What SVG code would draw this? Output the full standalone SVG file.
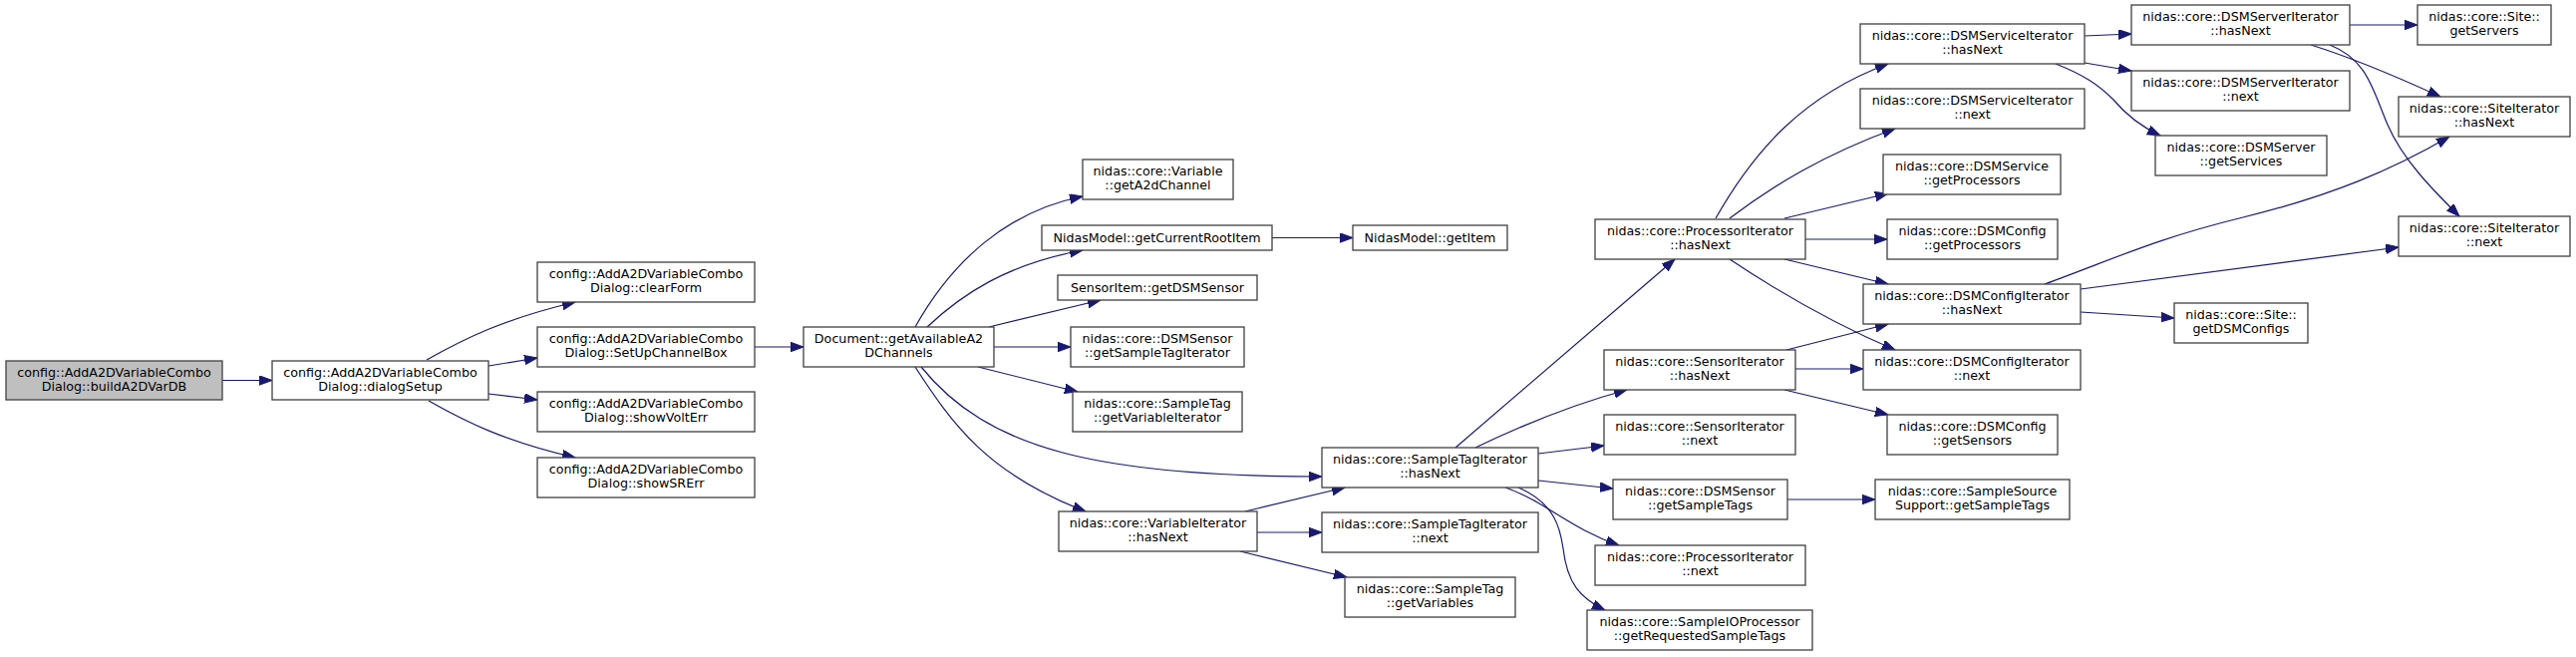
<svg xmlns="http://www.w3.org/2000/svg" width="2584" height="659" viewBox="0 0 2584 659">
<style>
.n rect{fill:#ffffff;stroke:#404040;stroke-width:1.3}
.n.main rect{fill:#bfbfbf}
.n text{font-family:"DejaVu Sans",sans-serif;font-size:12.7px;fill:#000;text-anchor:middle}
.e path{fill:none;stroke:#191970;stroke-width:1.2;marker-end:url(#ah)}
</style>
<defs>
<marker id="ah" markerUnits="userSpaceOnUse" markerWidth="14" markerHeight="11" refX="13" refY="4.75" orient="auto">
<path d="M0,0 L13,4.75 L0,9.5 z" fill="#191970" stroke="#191970" stroke-width="1"/>
</marker>
</defs>
<rect width="2584" height="659" fill="#ffffff"/>
<g id="edges" class="e">
<path d="M223,381.5 L273,381.5"/>
<path d="M428,361 C465,340 505,320 577,303"/>
<path d="M490,367 L539,359"/>
<path d="M490,395 L539,401"/>
<path d="M430,402 C467,423 507,443 577,459"/>
<path d="M757,348 L806,348"/>
<path d="M918,328 C955,262 1010,212 1086,197"/>
<path d="M930,328 C965,295 1010,265 1086,251"/>
<path d="M992,328 L1104,301"/>
<path d="M997,348 L1074,348"/>
<path d="M981,368 L1081,393"/>
<path d="M924,368 C990,450 1100,478 1326,478"/>
<path d="M918,368 C955,425 990,475 1089,513"/>
<path d="M1276,238.5 L1357,238.5"/>
<path d="M1249,513 L1349,489"/>
<path d="M1261,534 L1326,534"/>
<path d="M1244,553 L1351,579"/>
<path d="M1460,449 L1680,260"/>
<path d="M1480,449 C1530,425 1580,405 1632,391"/>
<path d="M1543,455 L1609,447"/>
<path d="M1543,482 L1618,490"/>
<path d="M1510,489 C1550,503 1575,530 1624,547"/>
<path d="M1523,489 C1560,505 1565,530 1568,550 C1572,585 1585,600 1610,612"/>
<path d="M1721,219 C1760,150 1810,95 1894,64"/>
<path d="M1735,219 C1780,185 1830,155 1901,129"/>
<path d="M1790,219 L1894,194"/>
<path d="M1811,240 L1893,240"/>
<path d="M1790,260 L1894,285"/>
<path d="M1735,260 C1780,290 1840,325 1901,351"/>
<path d="M1792,351 L1894,325"/>
<path d="M1801,370 L1869,370"/>
<path d="M1790,391 L1894,416"/>
<path d="M1793,501 L1881,501"/>
<path d="M2091,36 L2138,34"/>
<path d="M2091,63 L2138,71"/>
<path d="M2062,64 C2090,75 2105,85 2120,100 C2135,118 2150,128 2167,136"/>
<path d="M2357,25 L2425,25"/>
<path d="M2318,45 C2350,55 2400,75 2448,97"/>
<path d="M2337,45 C2375,60 2380,90 2395,125 C2410,160 2440,190 2467,217"/>
<path d="M2051,285 C2120,260 2160,240 2250,218 C2340,196 2400,170 2457,137"/>
<path d="M2087,290 L2406,248"/>
<path d="M2087,313 L2181,319"/>
</g>
<g id="n0" class="n main"><rect x="6" y="362" width="217" height="39"/><text x="114.5" y="378">config::AddA2DVariableCombo</text><text x="114.5" y="392">Dialog::buildA2DVarDB</text></g>
<g id="n1" class="n"><rect x="273" y="362" width="217" height="39"/><text x="381.5" y="378">config::AddA2DVariableCombo</text><text x="381.5" y="392">Dialog::dialogSetup</text></g>
<g id="n2" class="n"><rect x="539" y="263" width="218" height="40"/><text x="648" y="279">config::AddA2DVariableCombo</text><text x="648" y="293">Dialog::clearForm</text></g>
<g id="n3" class="n"><rect x="539" y="328" width="218" height="40"/><text x="648" y="344">config::AddA2DVariableCombo</text><text x="648" y="358">Dialog::SetUpChannelBox</text></g>
<g id="n4" class="n"><rect x="539" y="393" width="218" height="40"/><text x="648" y="409">config::AddA2DVariableCombo</text><text x="648" y="423">Dialog::showVoltErr</text></g>
<g id="n5" class="n"><rect x="539" y="459" width="218" height="40"/><text x="648" y="475">config::AddA2DVariableCombo</text><text x="648" y="489">Dialog::showSRErr</text></g>
<g id="n6" class="n"><rect x="806" y="328" width="191" height="40"/><text x="901.5" y="344">Document::getAvailableA2</text><text x="901.5" y="358">DChannels</text></g>
<g id="n7" class="n"><rect x="1086" y="160" width="151" height="40"/><text x="1161.5" y="176">nidas::core::Variable</text><text x="1161.5" y="190">::getA2dChannel</text></g>
<g id="n8" class="n"><rect x="1045" y="226" width="231" height="25"/><text x="1160.5" y="243">NidasModel::getCurrentRootItem</text></g>
<g id="n9" class="n"><rect x="1357" y="226" width="155" height="25"/><text x="1434.5" y="243">NidasModel::getItem</text></g>
<g id="n10" class="n"><rect x="1061" y="276" width="200" height="25"/><text x="1161" y="293">SensorItem::getDSMSensor</text></g>
<g id="n11" class="n"><rect x="1074" y="328" width="174" height="40"/><text x="1161" y="344">nidas::core::DSMSensor</text><text x="1161" y="358">::getSampleTagIterator</text></g>
<g id="n12" class="n"><rect x="1076" y="393" width="170" height="40"/><text x="1161" y="409">nidas::core::SampleTag</text><text x="1161" y="423">::getVariableIterator</text></g>
<g id="n13" class="n"><rect x="1062" y="513" width="199" height="40"/><text x="1161.5" y="529">nidas::core::VariableIterator</text><text x="1161.5" y="543">::hasNext</text></g>
<g id="n14" class="n"><rect x="1326" y="449" width="217" height="40"/><text x="1434.5" y="465">nidas::core::SampleTagIterator</text><text x="1434.5" y="479">::hasNext</text></g>
<g id="n15" class="n"><rect x="1326" y="514" width="217" height="40"/><text x="1434.5" y="530">nidas::core::SampleTagIterator</text><text x="1434.5" y="544">::next</text></g>
<g id="n16" class="n"><rect x="1349" y="579" width="171" height="40"/><text x="1434.5" y="595">nidas::core::SampleTag</text><text x="1434.5" y="609">::getVariables</text></g>
<g id="n17" class="n"><rect x="1600" y="220" width="211" height="40"/><text x="1705.5" y="236">nidas::core::ProcessorIterator</text><text x="1705.5" y="250">::hasNext</text></g>
<g id="n18" class="n"><rect x="1609" y="351" width="192" height="40"/><text x="1705" y="367">nidas::core::SensorIterator</text><text x="1705" y="381">::hasNext</text></g>
<g id="n19" class="n"><rect x="1609" y="416" width="192" height="40"/><text x="1705" y="432">nidas::core::SensorIterator</text><text x="1705" y="446">::next</text></g>
<g id="n20" class="n"><rect x="1618" y="481" width="175" height="40"/><text x="1705.5" y="497">nidas::core::DSMSensor</text><text x="1705.5" y="511">::getSampleTags</text></g>
<g id="n21" class="n"><rect x="1600" y="547" width="211" height="40"/><text x="1705.5" y="563">nidas::core::ProcessorIterator</text><text x="1705.5" y="577">::next</text></g>
<g id="n22" class="n"><rect x="1592" y="612" width="226" height="40"/><text x="1705" y="628">nidas::core::SampleIOProcessor</text><text x="1705" y="642">::getRequestedSampleTags</text></g>
<g id="n23" class="n"><rect x="1866" y="24" width="225" height="40"/><text x="1978.5" y="40">nidas::core::DSMServiceIterator</text><text x="1978.5" y="54">::hasNext</text></g>
<g id="n24" class="n"><rect x="1866" y="89" width="225" height="40"/><text x="1978.5" y="105">nidas::core::DSMServiceIterator</text><text x="1978.5" y="119">::next</text></g>
<g id="n25" class="n"><rect x="1889" y="155" width="178" height="40"/><text x="1978" y="171">nidas::core::DSMService</text><text x="1978" y="185">::getProcessors</text></g>
<g id="n26" class="n"><rect x="1893" y="220" width="171" height="40"/><text x="1978.5" y="236">nidas::core::DSMConfig</text><text x="1978.5" y="250">::getProcessors</text></g>
<g id="n27" class="n"><rect x="1869" y="285" width="218" height="40"/><text x="1978" y="301">nidas::core::DSMConfigIterator</text><text x="1978" y="315">::hasNext</text></g>
<g id="n28" class="n"><rect x="1869" y="351" width="218" height="40"/><text x="1978" y="367">nidas::core::DSMConfigIterator</text><text x="1978" y="381">::next</text></g>
<g id="n29" class="n"><rect x="1893" y="416" width="171" height="40"/><text x="1978.5" y="432">nidas::core::DSMConfig</text><text x="1978.5" y="446">::getSensors</text></g>
<g id="n30" class="n"><rect x="1881" y="481" width="195" height="40"/><text x="1978.5" y="497">nidas::core::SampleSource</text><text x="1978.5" y="511">Support::getSampleTags</text></g>
<g id="n31" class="n"><rect x="2138" y="5" width="219" height="40"/><text x="2247.5" y="21">nidas::core::DSMServerIterator</text><text x="2247.5" y="35">::hasNext</text></g>
<g id="n32" class="n"><rect x="2138" y="71" width="219" height="40"/><text x="2247.5" y="87">nidas::core::DSMServerIterator</text><text x="2247.5" y="101">::next</text></g>
<g id="n33" class="n"><rect x="2162" y="136" width="172" height="40"/><text x="2248" y="152">nidas::core::DSMServer</text><text x="2248" y="166">::getServices</text></g>
<g id="n34" class="n"><rect x="2425" y="5" width="134" height="40"/><text x="2492" y="21">nidas::core::Site::</text><text x="2492" y="35">getServers</text></g>
<g id="n35" class="n"><rect x="2406" y="97" width="172" height="40"/><text x="2492" y="113">nidas::core::SiteIterator</text><text x="2492" y="127">::hasNext</text></g>
<g id="n36" class="n"><rect x="2406" y="217" width="172" height="40"/><text x="2492" y="233">nidas::core::SiteIterator</text><text x="2492" y="247">::next</text></g>
<g id="n37" class="n"><rect x="2181" y="304" width="134" height="40"/><text x="2248" y="320">nidas::core::Site::</text><text x="2248" y="334">getDSMConfigs</text></g>
</svg>
